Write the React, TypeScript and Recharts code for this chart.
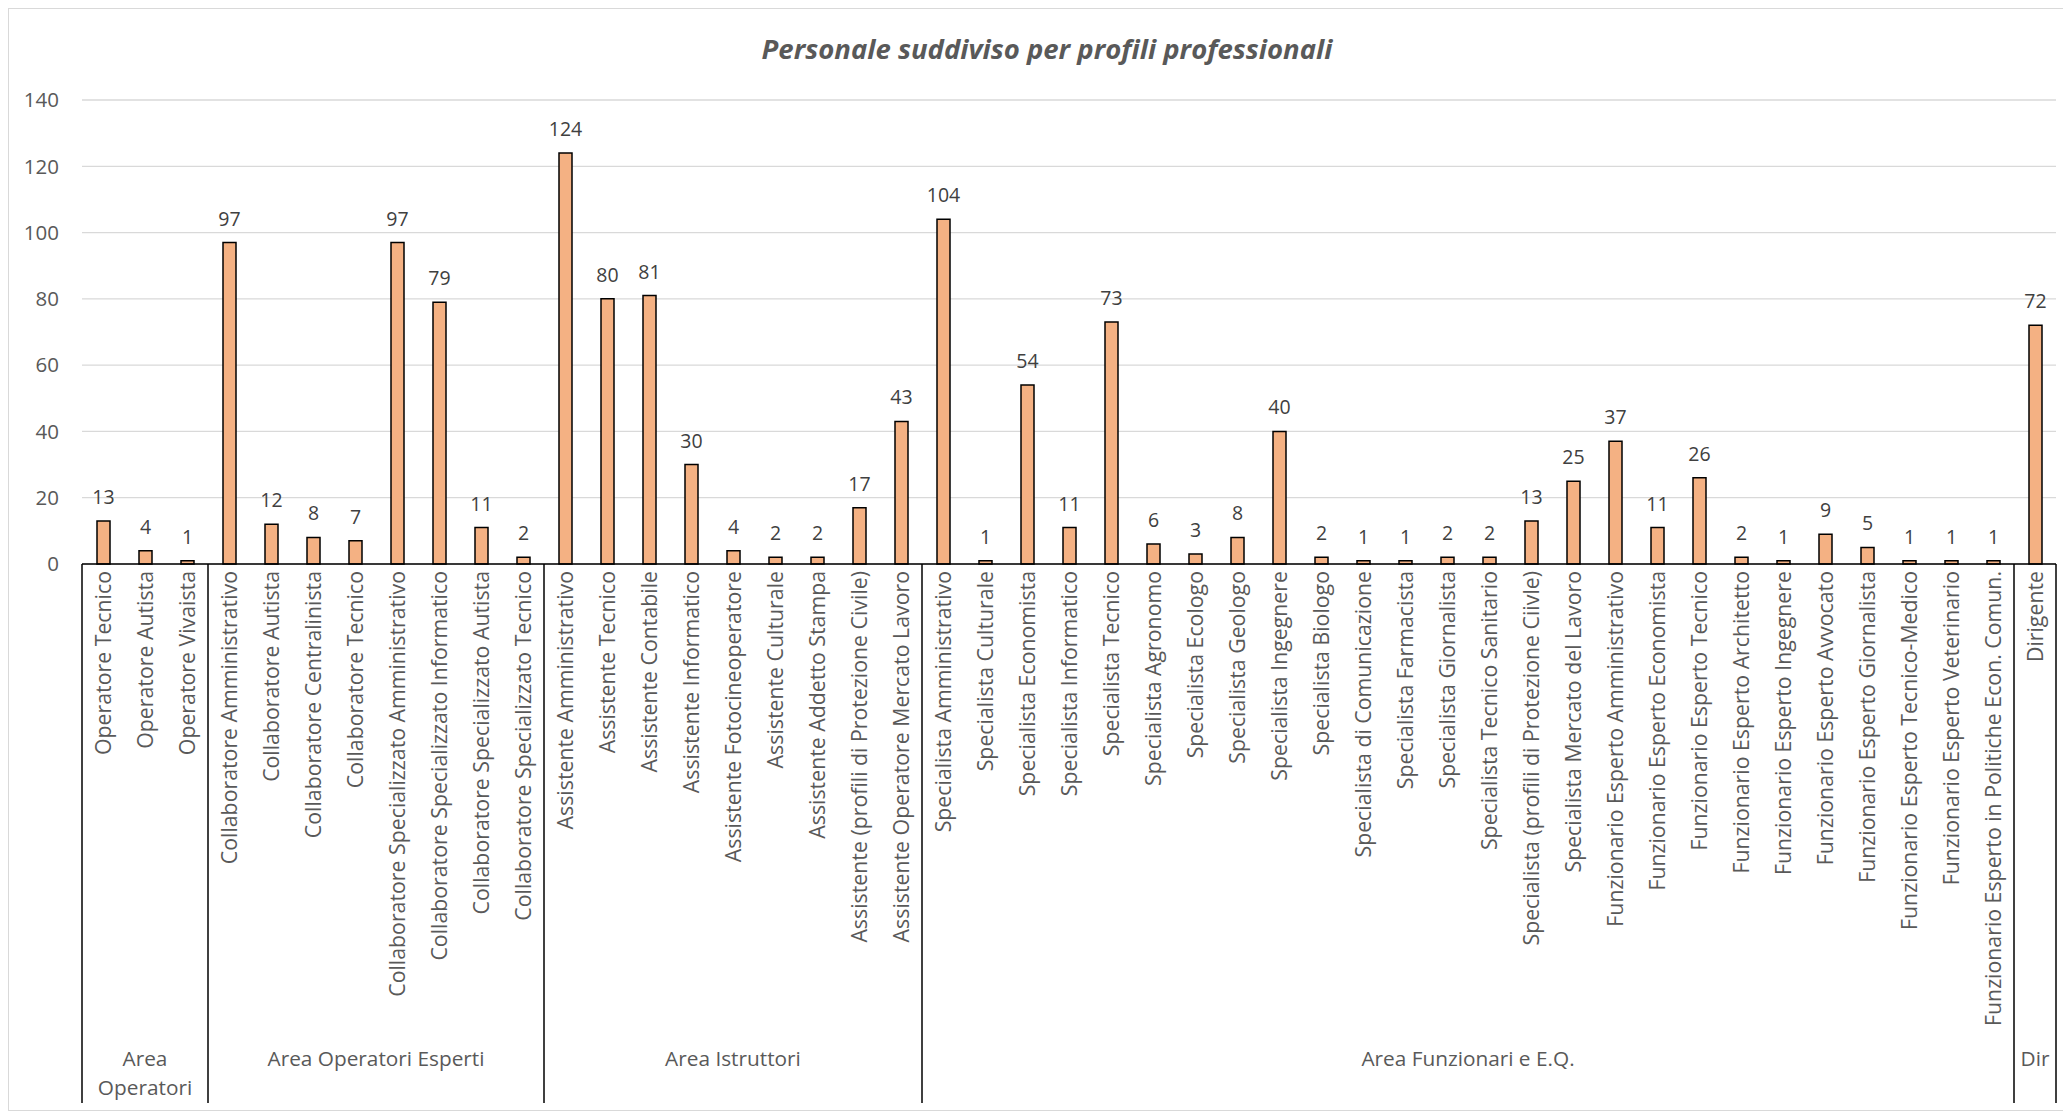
import { BarChart, Bar, XAxis, YAxis, CartesianGrid, LabelList } from "recharts";

const gruppi = [["Area", "Operatori"], ["Area Operatori Esperti"], ["Area Istruttori"], ["Area Funzionari e E.Q."], ["Dir"]];
const gruppiConteggi = [3, 8, 9, 26, 1];

const profili = [
  "Operatore Tecnico", "Operatore Autista", "Operatore Vivaista",
  "Collaboratore Amministrativo", "Collaboratore Autista", "Collaboratore Centralinista", "Collaboratore Tecnico",
  "Collaboratore Specializzato Amministrativo", "Collaboratore Specializzato Informatico",
  "Collaboratore Specializzato Autista", "Collaboratore Specializzato Tecnico",
  "Assistente Amministrativo", "Assistente Tecnico", "Assistente Contabile", "Assistente Informatico",
  "Assistente Fotocineoperatore", "Assistente Culturale", "Assistente Addetto Stampa",
  "Assistente  (profili di Protezione Civile)", "Assistente  Operatore Mercato Lavoro",
  "Specialista Amministrativo", "Specialista Culturale", "Specialista Economista", "Specialista Informatico",
  "Specialista Tecnico", "Specialista Agronomo", "Specialista Ecologo", "Specialista Geologo",
  "Specialista Ingegnere", "Specialista Biologo", "Specialista di Comunicazione", "Specialista Farmacista",
  "Specialista Giornalista", "Specialista Tecnico Sanitario", "Specialista (profili di Protezione Ciivle)",
  "Specialista Mercato del Lavoro", "Funzionario Esperto Amministrativo", "Funzionario Esperto Economista",
  "Funzionario Esperto Tecnico", "Funzionario Esperto Architetto", "Funzionario Esperto Ingegnere",
  "Funzionario Esperto Avvocato", "Funzionario Esperto Giornalista", "Funzionario Esperto Tecnico-Medico",
  "Funzionario Esperto Veterinario", "Funzionario Esperto in Politiche Econ. Comun.",
  "Dirigente",
];

const valori = [
  13, 4, 1,
  97, 12, 8, 7, 97, 79, 11, 2,
  124, 80, 81, 30, 4, 2, 2, 17, 43,
  104, 1, 54, 11, 73, 6, 3, 8, 40, 2, 1, 1, 2, 2, 13, 25, 37, 11, 26, 2, 1, 9, 5, 1, 1, 1,
  72,
];

const yTicks = [0, 20, 40, 60, 80, 100, 120, 140];

const data = profili.map((name, i) => ({ name, value: valori[i] }));

// start index of each group
const starts: number[] = [];
gruppiConteggi.reduce((acc, c) => { starts.push(acc); return acc + c; }, 0);

const FONT = "'Open Sans', 'Noto Sans', sans-serif";
const GREY = "#595959";
const BOTTOM = 1094;

const CategoryTick = (props: any) => {
  const { x, y, payload, index } = props;
  const half = payload.offset || 21;
  const g = starts.indexOf(index);
  const last = index === profili.length - 1;
  return (
    <g>
      <text
        transform={`translate(${x},${y + 7}) rotate(-90)`}
        textAnchor="end"
        dy="0.36em"
        fontSize={21.3}
        fontFamily={FONT}
        fill={GREY}
      >
        {payload.value}
      </text>
      {g >= 0 && (
        <>
          <line x1={x - half} x2={x - half} y1={y} y2={BOTTOM} stroke="#000" strokeWidth={1.5} />
          {gruppi[g].map((t, k) => (
            <text
              key={k}
              x={x - half + gruppiConteggi[g] * half}
              y={y + 495 + k * 29}
              textAnchor="middle"
              dy="0.36em"
              fontSize={20.8}
              fontFamily={FONT}
              fill={GREY}
            >
              {t}
            </text>
          ))}
        </>
      )}
      {last && <line x1={x + half} x2={x + half} y1={y} y2={BOTTOM} stroke="#000" strokeWidth={1.5} />}
    </g>
  );
};

export default function App() {
  return (
    <div style={{ position: "relative", width: 2055, height: 1101, border: "1px solid #d9d9d9", background: "#fff" }}>
      <div
        style={{
          position: "absolute", left: 0, top: 24, width: 2076, textAlign: "center",
          fontFamily: FONT, fontWeight: "bold", fontStyle: "italic", fontSize: 27.5, color: GREY, lineHeight: "32px",
        }}
      >
        Personale suddiviso per profili professionali
      </div>
      <BarChart width={2055} height={1101} data={data} margin={{ top: 91, right: 8, left: 0, bottom: 0 }}>
        <CartesianGrid vertical={false} stroke="#d9d9d9" strokeWidth={1.3} />
        <YAxis
          domain={[0, 140]}
          ticks={yTicks}
          width={73}
          axisLine={false}
          tickLine={false}
          tickSize={0}
          tickMargin={23}
          tick={{ fontSize: 20.5, fontFamily: FONT, fill: GREY }}
        />
        <XAxis
          dataKey="name"
          interval={0}
          height={546}
          tickLine={false}
          tickSize={0}
          tickMargin={0}
          axisLine={{ stroke: "#000", strokeWidth: 1.5 }}
          tick={<CategoryTick />}
        />
        <Bar dataKey="value" fill="#F4B183" stroke="#000" strokeWidth={1.5} barSize={13} isAnimationActive={false}>
          <LabelList dataKey="value" position="top" offset={17} fontSize={19.5} fontFamily={FONT} fill="#404040" />
        </Bar>
      </BarChart>
    </div>
  );
}
